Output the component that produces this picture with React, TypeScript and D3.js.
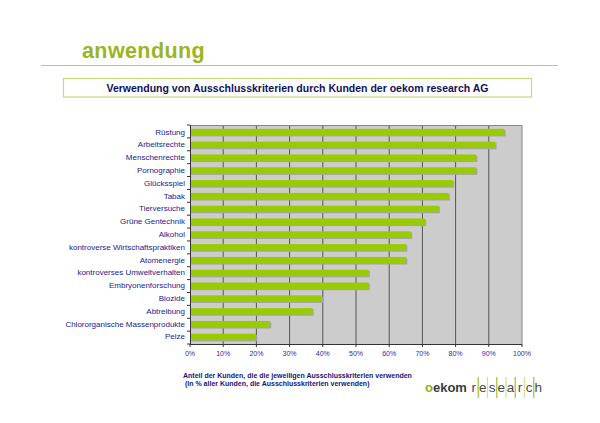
import React, { useRef, useEffect } from "react";
import * as d3 from "d3";

// Ausschlusskriterien, sorted as shown (top to bottom)
const categories = [
  "Rüstung",
  "Arbeitsrechte",
  "Menschenrechte",
  "Pornographie",
  "Glücksspiel",
  "Tabak",
  "Tierversuche",
  "Grüne Gentechnik",
  "Alkohol",
  "kontroverse Wirtschaftspraktiken",
  "Atomenergie",
  "kontroverses Umweltverhalten",
  "Embryonenforschung",
  "Biozide",
  "Abtreibung",
  "Chlororganische Massenprodukte",
  "Pelze",
];

// share of clients using each criterion, in %
const shares = [94.7, 92, 86.2, 86.2, 79.2, 77.9, 74.9, 70.8, 66.6, 65.1, 65.1, 53.8, 53.8, 39.7, 36.9, 24.1, 19.9];

const xTicks = [0, 10, 20, 30, 40, 50, 60, 70, 80, 90, 100];

const footnote = [
  "Anteil der Kunden, die die jeweiligen Ausschlusskriterien verwenden",
  " (in % aller Kunden, die Ausschlusskriterien verwenden)",
];

const logoLetters = ["r", "e", "s", "e", "a", "r", "c", "h"];

const W = 600;
const H = 423;
const FONT = "Arial, 'Liberation Sans', Helvetica, sans-serif";
const NAVY = "#16167a";
const GREEN = "#99cc00";

const App: React.FC = () => {
  const svgRef = useRef<SVGSVGElement>(null);

  useEffect(() => {
    if (!svgRef.current) return;
    const svg = d3.select(svgRef.current);
    svg.selectAll("*").remove();

    svg.append("rect").attr("width", W).attr("height", H).attr("fill", "#fff");

    // Page header
    svg
      .append("text")
      .attr("x", 82)
      .attr("y", 58)
      .attr("font-family", FONT)
      .attr("font-weight", "bold")
      .attr("font-size", 21.5)
      .attr("letter-spacing", 0.4)
      .attr("fill", "#9ab51e")
      .text("anwendung");

    svg
      .append("line")
      .attr("x1", 41)
      .attr("x2", 558)
      .attr("y1", 65.5)
      .attr("y2", 65.5)
      .attr("stroke", "#b9cc62")
      .attr("stroke-width", 1);

    // Chart title box
    svg
      .append("rect")
      .attr("x", 63.5)
      .attr("y", 78.5)
      .attr("width", 468)
      .attr("height", 18.5)
      .attr("fill", "#fff")
      .attr("stroke", "#c6d884")
      .attr("stroke-width", 1.2);

    svg
      .append("text")
      .attr("x", 297.5)
      .attr("y", 91.5)
      .attr("text-anchor", "middle")
      .attr("font-family", FONT)
      .attr("font-weight", "bold")
      .attr("font-size", 10.5)
      .attr("fill", "#10105e")
      .text("Verwendung von Ausschlusskriterien durch Kunden der oekom research AG");

    // Plot area
    const left = 190;
    const right = 522;
    const top = 125;
    const bottom = 344;

    const x = d3.scaleLinear().domain([0, 100]).range([left, right]);
    const y = d3.scaleBand<string>().domain(categories).range([top, bottom]).paddingInner(0.5).paddingOuter(0.3);

    svg
      .append("rect")
      .attr("x", left)
      .attr("y", top)
      .attr("width", right - left)
      .attr("height", bottom - top)
      .attr("fill", "#cccccc");

    // vertical gridlines
    svg
      .append("g")
      .selectAll("line")
      .data(xTicks.slice(1))
      .join("line")
      .attr("x1", (d) => x(d))
      .attr("x2", (d) => x(d))
      .attr("y1", top)
      .attr("y2", bottom)
      .attr("stroke", (d) => (d === 100 ? "#888" : "#555"))
      .attr("stroke-width", 1);

    svg
      .append("line")
      .attr("x1", left)
      .attr("x2", right)
      .attr("y1", top + 0.5)
      .attr("y2", top + 0.5)
      .attr("stroke", "#888");

    // bar shadows then bars
    const data = categories.map((c, i) => ({ c, v: shares[i] }));
    svg
      .append("g")
      .selectAll("rect")
      .data(data)
      .join("rect")
      .attr("x", x(0) + 1.2)
      .attr("y", (d) => (y(d.c) as number) + 1.2)
      .attr("width", (d) => x(d.v) - x(0))
      .attr("height", y.bandwidth())
      .attr("fill", "#a5a5a5");

    svg
      .append("g")
      .selectAll("rect")
      .data(data)
      .join("rect")
      .attr("x", x(0))
      .attr("y", (d) => y(d.c) as number)
      .attr("width", (d) => x(d.v) - x(0))
      .attr("height", y.bandwidth())
      .attr("fill", GREEN);

    // left axis with ticks at category boundaries
    const step = (bottom - top) / categories.length;
    const bounds = d3.range(categories.length + 1).map((i) => top + i * step);
    svg
      .append("line")
      .attr("x1", left + 0.5)
      .attr("x2", left + 0.5)
      .attr("y1", top)
      .attr("y2", bottom)
      .attr("stroke", "#333");
    svg
      .append("g")
      .selectAll("line")
      .data(bounds)
      .join("line")
      .attr("x1", left - 3)
      .attr("x2", left)
      .attr("y1", (d) => d)
      .attr("y2", (d) => d)
      .attr("stroke", "#333");

    // bottom axis
    svg
      .append("line")
      .attr("x1", left)
      .attr("x2", right)
      .attr("y1", bottom + 0.5)
      .attr("y2", bottom + 0.5)
      .attr("stroke", "#333");
    svg
      .append("g")
      .selectAll("line")
      .data(xTicks)
      .join("line")
      .attr("x1", (d) => x(d))
      .attr("x2", (d) => x(d))
      .attr("y1", bottom)
      .attr("y2", bottom + 3)
      .attr("stroke", "#333");

    svg
      .append("g")
      .selectAll("text")
      .data(xTicks)
      .join("text")
      .attr("x", (d) => x(d))
      .attr("y", bottom + 11.5)
      .attr("text-anchor", "middle")
      .attr("font-family", FONT)
      .attr("font-size", 7)
      .attr("fill", "#2a2ab0")
      .text((d) => `${d}%`);

    // category labels
    svg
      .append("g")
      .selectAll("text")
      .data(categories)
      .join("text")
      .attr("x", left - 5)
      .attr("y", (d) => (y(d) as number) + y.bandwidth() / 2 + 2.5)
      .attr("text-anchor", "end")
      .attr("font-family", FONT)
      .attr("font-size", 8)
      .attr("fill", "#1a1a90")
      .text((d) => d);

    // footnote
    svg
      .append("g")
      .selectAll("text")
      .data(footnote)
      .join("text")
      .attr("x", 183)
      .attr("y", (_d, i) => 377.5 + i * 8.5)
      .attr("font-family", FONT)
      .attr("font-weight", "bold")
      .attr("font-size", 7)
      .attr("fill", NAVY)
      .attr("xml:space", "preserve")
      .style("white-space", "pre")
      .text((d) => d);

    // company logo
    const logo = svg.append("g");
    const oekom = logo
      .append("text")
      .attr("x", 425)
      .attr("y", 392)
      .attr("font-family", FONT)
      .attr("font-weight", "bold")
      .attr("font-size", 13);
    oekom.append("tspan").attr("fill", "#8db414").text("o");
    oekom.append("tspan").attr("fill", "#3a3a3a").text("ekom");

    const lx = d3.scaleBand<number>().domain(d3.range(logoLetters.length)).range([469, 543]);
    logo
      .selectAll("line")
      .data(d3.range(logoLetters.length - 1))
      .join("line")
      .attr("x1", (i) => (lx(i) as number) + lx.bandwidth())
      .attr("x2", (i) => (lx(i) as number) + lx.bandwidth())
      .attr("y1", 377)
      .attr("y2", 398)
      .attr("stroke", (i) => (i % 2 === 0 ? "#a9c240" : "#d3e0a0"))
      .attr("stroke-width", 1.3);
    logo
      .selectAll("text.l")
      .data(logoLetters)
      .join("text")
      .attr("class", "l")
      .attr("x", (_d, i) => (lx(i) as number) + lx.bandwidth() / 2)
      .attr("y", 392)
      .attr("text-anchor", "middle")
      .attr("font-family", FONT)
      .attr("font-size", 13.5)
      .attr("fill", "#4a4a4a")
      .text((d) => d);
  }, []);

  return (
    <svg
      ref={svgRef}
      width={W}
      height={H}
      style={{ position: "absolute", left: 0, top: 0, display: "block" }}
    />
  );
};

export default App;
